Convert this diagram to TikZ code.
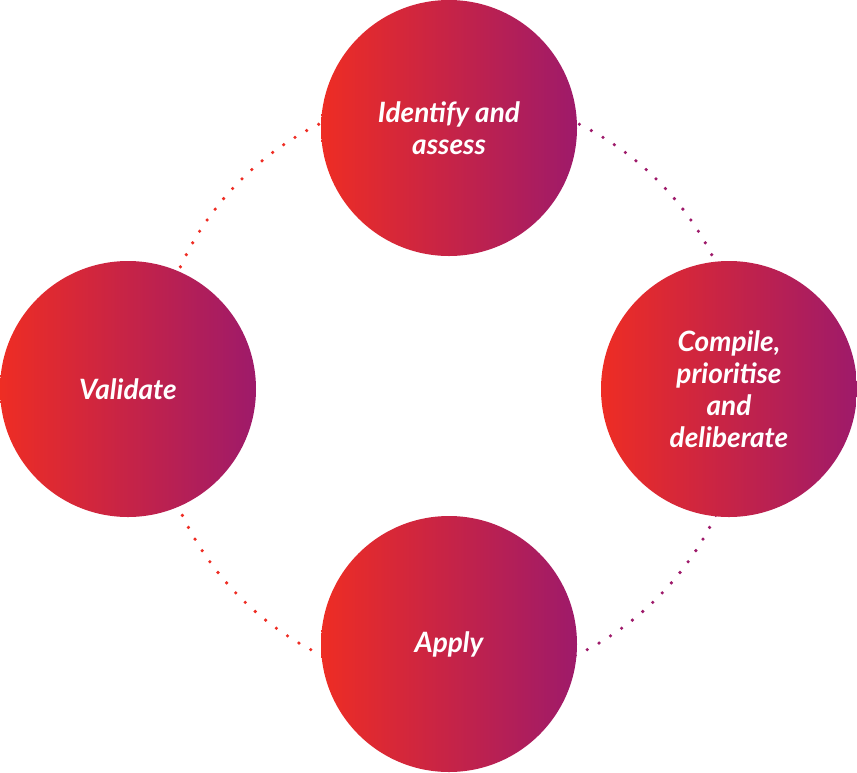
\documentclass[tikz,border=0pt]{standalone}
\usepackage{fontspec}
\setmainfont{Lato}
\definecolor{cred}{HTML}{EE2D24}
\definecolor{cpurple}{HTML}{9E1A6A}
\tikzset{
  stage/.style={circle, minimum size=256pt, inner sep=0pt, left color=cred, right color=cpurple, shading angle=90,
    text=white, align=center, font=\fontsize{28}{32}\selectfont\bfseries\itshape},
  dots/.style={line width=3.6pt, line cap=round, dash pattern=on 0pt off 13.5pt}
}
\begin{document}
\begin{tikzpicture}[x=1pt,y=-1pt]
\useasboundingbox (0,0) rectangle (857,772);
\coordinate (c) at (449,389);
\draw[dots, cred] (449,94) arc[start angle=-90, end angle=-270, radius=295];
\draw[dots, cpurple] (449,94) arc[start angle=-90, end angle=90, radius=295];
\node[stage] (id) at (449,128) {Identify and\\assess};
\node[stage] (cp) at (729,389) {Compile,\\prioritise\\and\\deliberate};
\node[stage] (ap) at (449,644) {Apply};
\node[stage] (va) at (128,389) {Validate};
\end{tikzpicture}
\end{document}
